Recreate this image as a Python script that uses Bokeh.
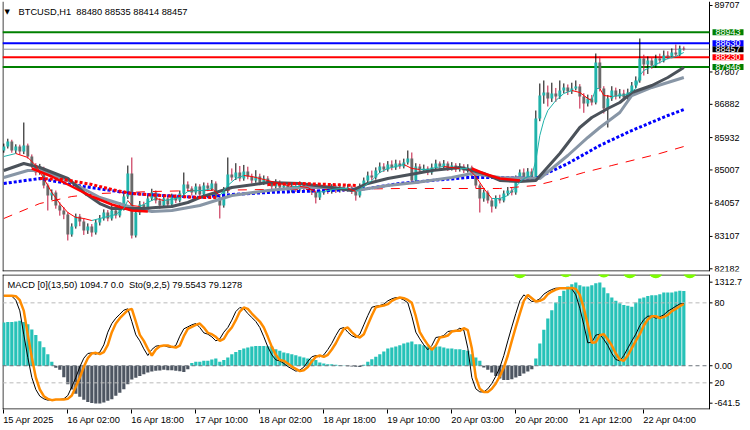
import numpy as np
from bokeh.plotting import figure
from bokeh.models import Range1d, FixedTicker, Label, ColumnDataSource
from bokeh.layouts import column
from bokeh.embed import file_html
from bokeh.resources import INLINE
from bokeh.core.properties import value

FONT = "Liberation Sans"
NAN = float("nan")

# ---------------- data ----------------
symbol = "BTCUSD,H1"
tick_bars = [0, 16, 32, 48, 64, 80, 96, 112, 128, 144, 160]
tick_labels = ["15 Apr 2025", "16 Apr 02:00", "16 Apr 18:00", "17 Apr 10:00", "18 Apr 02:00",
               "18 Apr 18:00", "19 Apr 10:00", "20 Apr 03:00", "20 Apr 20:00", "21 Apr 12:00",
               "22 Apr 04:00"]
price_ticks = [82182, 83107, 84057, 85007, 85932, 86882, 87807, 89707]

opens = [
    85563, 85677, 85820, 85563, 85677, 85534, 85706, 85392, 85134, 84934,
    85049, 84563, 84277, 84363, 83991, 83848, 83734, 83162, 83391, 83677,
    83534, 83277, 83391, 83219, 83505, 83620, 83791, 83620, 83848, 83705,
    83905, 84248, 84906, 83134, 83791, 84020, 83905, 84191, 84363, 84134,
    83991, 84191, 84020, 84248, 84134, 84334, 84591, 84477, 84363, 84534,
    84305, 84563, 84477, 84620, 84220, 83991, 84420, 84877, 84791, 84934,
    84763, 84963, 84820, 84706, 84820, 84648, 84763, 84620, 84534, 84648,
    84506, 84563, 84420, 84534, 84448, 84591, 84477, 84534, 84363, 84220,
    84363, 84477, 84391, 84506, 84420, 84534, 84448, 84506, 84391, 84277,
    84534, 84706, 84848, 84791, 84991, 85106, 85020, 85163, 85077, 85191,
    85106, 85220, 85334, 84706, 85106, 84991, 85049, 84934, 85077, 85191,
    85106, 85191, 85049, 85134, 85020, 85106, 84991, 85077, 84848, 84563,
    84191, 84363, 84134, 83963, 84191, 84134, 84334, 84420, 84363, 84763,
    84934, 84763, 84963, 84791, 86478, 87135, 87221, 87049, 87192, 87106,
    87278, 87364, 87249, 87335, 87392, 87106, 86906, 87049, 86935, 88078,
    87335, 86763, 87049, 87278, 87106, 87192, 87078, 87221, 87421, 87564,
    88192, 88021, 88135, 87992, 88192, 88135, 88278, 88250, 88364, 88307,
    88480]
highs = [
    85760, 85900, 85870, 85740, 85730, 86363, 85760, 85450, 85200, 85180,
    85100, 84620, 84450, 84420, 84080, 83950, 83800, 83480, 83760, 83750,
    83620, 83480, 83460, 83590, 83720, 83880, 83860, 84000, 83930, 84080,
    84330, 85134, 85363, 83880, 84120, 84100, 84280, 84470, 84420, 84200,
    84290, 84260, 84330, 84310, 84420, 84934, 84680, 84540, 84620, 84600,
    84650, 84640, 84720, 84680, 84300, 84520, 85363, 85050, 85200, 85120,
    85150, 85100, 84900, 85000, 84900, 84850, 84830, 84690, 84740, 84710,
    84650, 84630, 84620, 84600, 84680, 84650, 84620, 84600, 84420, 84440,
    84560, 84550, 84600, 84580, 84620, 84600, 84600, 84560, 84440, 84620,
    84790, 84960, 84990, 85080, 85220, 85200, 85260, 85280, 85300, 85280,
    85330, 85563, 85506, 85200, 85180, 85160, 85110, 85190, 85300, 85250,
    85290, 85250, 85230, 85200, 85200, 85170, 85170, 85130, 84900, 84620,
    84450, 84420, 84200, 84280, 84300, 84420, 84520, 84500, 84850, 85020,
    85050, 85060, 85050, 86706, 87478, 87564, 87420, 87500, 87350, 87564,
    87480, 87450, 87500, 87564, 87460, 87200, 87160, 87150, 88335, 88250,
    87400, 87150, 87400, 87360, 87320, 87300, 87330, 87520, 87680, 88764,
    88300, 88250, 88220, 88300, 88330, 88420, 88400, 88480, 88592, 88560,
    88535]
lows = [
    85500, 85620, 85500, 85480, 85450, 85460, 85330, 85060, 84850, 84870,
    84480, 83848, 84150, 83900, 83700, 83600, 82991, 83100, 83330, 83400,
    83150, 83180, 83100, 83160, 83420, 83560, 83540, 83560, 83620, 83650,
    83850, 84180, 83048, 83077, 83720, 83830, 83850, 84120, 84050, 83900,
    83930, 83950, 83960, 84060, 84080, 84280, 84400, 84280, 84300, 84230,
    84250, 84400, 84420, 84140, 83620, 83930, 84350, 84700, 84720, 84680,
    84700, 84740, 84620, 84640, 84570, 84580, 84540, 84450, 84470, 84430,
    84440, 84340, 84360, 84380, 84390, 84400, 84410, 84290, 84050, 84150,
    84300, 84320, 84330, 84350, 84360, 84380, 84390, 84320, 84130, 84220,
    84480, 84650, 84720, 84730, 84920, 84950, 84960, 85000, 85010, 85040,
    85050, 85160, 84640, 84640, 84920, 84920, 84860, 84870, 85010, 85040,
    85040, 84980, 84990, 84950, 84960, 84920, 84930, 84780, 84480, 83791,
    84100, 84050, 83791, 83900, 84050, 84080, 84270, 84280, 84300, 84690,
    84680, 84700, 84720, 84763, 86400, 86900, 86820, 86950, 86950, 87040,
    87200, 87150, 87180, 87280, 86760, 86640, 86820, 86850, 86880, 87250,
    86620, 86220, 86980, 87020, 87050, 86990, 87000, 87150, 87350, 87500,
    87706, 87750, 87900, 87930, 88050, 88080, 88170, 88200, 88250, 88260,
    88414]
closes = [
    85677, 85820, 85563, 85677, 85534, 85706, 85392, 85134, 84934, 85049,
    84563, 84277, 84363, 83991, 83848, 83734, 83162, 83391, 83677, 83534,
    83277, 83391, 83219, 83505, 83620, 83791, 83620, 83848, 83705, 83905,
    84248, 84906, 83134, 83791, 84020, 83905, 84191, 84363, 84134, 83991,
    84191, 84020, 84248, 84134, 84334, 84591, 84477, 84363, 84534, 84305,
    84563, 84477, 84620, 84220, 83991, 84420, 84877, 84791, 84934, 84763,
    84963, 84820, 84706, 84820, 84648, 84763, 84620, 84534, 84648, 84506,
    84563, 84420, 84534, 84448, 84591, 84477, 84534, 84363, 84220, 84363,
    84477, 84391, 84506, 84420, 84534, 84448, 84506, 84391, 84277, 84534,
    84706, 84848, 84791, 84991, 85106, 85020, 85163, 85077, 85191, 85106,
    85220, 85334, 84706, 85106, 84991, 85049, 84934, 85077, 85191, 85106,
    85191, 85049, 85134, 85020, 85106, 84991, 85077, 84848, 84563, 84191,
    84363, 84134, 83963, 84191, 84134, 84334, 84420, 84363, 84763, 84934,
    84763, 84963, 84791, 86478, 87135, 87221, 87049, 87192, 87106, 87278,
    87364, 87249, 87335, 87392, 87106, 86906, 87049, 86935, 88078, 87335,
    86763, 87049, 87278, 87106, 87192, 87078, 87221, 87421, 87564, 88192,
    88021, 88135, 87992, 88192, 88135, 88278, 88250, 88364, 88307, 88480,
    88457]

# moving averages (bar index, price)
fast_bar = [0, 3, 6, 8, 10, 12, 14, 16, 18, 20, 22, 24, 26, 28, 30, 31, 32, 34, 36, 38,
            40, 42, 44, 46, 48, 50, 52, 54, 56, 58, 60, 62, 64, 66, 68, 70, 72, 74, 76, 78,
            80, 82, 84, 86, 88, 90, 92, 94, 96, 98, 100, 102, 104, 106, 108, 110, 112, 114, 116, 118,
            120, 122, 124, 126, 128, 130, 132, 133, 134, 135, 136, 138, 140, 142, 144, 146, 147, 148, 149, 150,
            152, 154, 156, 158, 159, 160, 162, 164, 166, 168, 170]
fast_val = [85392, 85477, 85363, 85134, 84763, 84363, 84048, 83791, 83648, 83620,
            83562, 83620, 83677, 83734, 83905, 84134, 83991, 83963, 84077, 84191,
            84134, 84163, 84220, 84391, 84420, 84420, 84477, 84277, 84563, 84763,
            84848, 84820, 84763, 84706, 84648, 84591, 84534, 84534, 84506, 84363,
            84391, 84448, 84477, 84477, 84391, 84534, 84706, 84934, 85049, 85106,
            85163, 85049, 85020, 85020, 85077, 85106, 85077, 85049, 85049, 84820,
            84477, 84191, 84191, 84277, 84534, 84763, 84848, 85277, 85991, 86420,
            86706, 86992, 87192, 87278, 87221, 87049, 86992, 87335, 87335, 87135,
            87106, 87135, 87163, 87335, 87706, 87849, 87964, 88078, 88192, 88250,
            88364]
dark_bar = [0, 5, 9, 16, 20, 24, 27, 31, 35, 38, 42, 46, 49, 57, 66, 74, 82, 87, 91, 96,
            103, 107, 114, 117, 120, 124, 129, 133, 139, 144, 147, 151, 154, 157, 162, 166, 170]
dark_val = [84991, 85191, 85077, 84763, 84363, 84048, 83905, 83905, 83905, 83934,
            83963, 84077, 84220, 84506, 84648, 84620, 84506, 84420, 84620, 84763,
            84906, 84991, 85077, 84991, 84906, 84706, 84677, 84706, 85477, 86220,
            86506, 86763, 86935, 87221, 87421, 87650, 87935]
light_bar = [0, 6, 9, 16, 24, 32, 37, 42, 49, 57, 66, 74, 82, 88, 96, 103, 112, 117, 124, 134,
             141, 146, 149, 154, 157, 162, 166, 170]
light_val = [84791, 84991, 84991, 84706, 84220, 83934, 83820, 83848, 83991, 84277,
             84420, 84506, 84506, 84420, 84563, 84648, 84791, 84906, 84791, 84763,
             85420, 85935, 86220, 86649, 87135, 87364, 87506, 87650]
blue_bar = [0, 9, 20, 32, 40, 49, 57, 66, 74, 82, 91, 99, 107, 116, 124, 133, 141, 149, 157, 166, 170]
blue_val = [84620, 84763, 84534, 84334, 84277, 84220, 84305, 84363, 84391, 84420,
            84477, 84620, 84706, 84791, 84791, 84763, 85191, 85706, 86134, 86563, 86735]
red_dash_bar = [0, 9, 17, 24, 37, 49, 66, 82, 99, 112, 124, 133, 139, 145, 152, 159, 164, 170]
red_dash_val = [83620, 84048, 84248, 84334, 84391, 84420, 84448, 84448, 84477, 84477,
                84477, 84563, 84734, 84934, 85134, 85334, 85477, 85677]
red_thick_bar = [7, 12, 17, 22, 27, 32, 36, 37, 117, 120, 124, 129]
red_thick_val = [85049, 84820, 84534, 84248, 84020, 83848, 83820, NAN, 85049, 84906, 84763, 84706]
red_dot_bar = [9, 15, 22, 27, 32, 39, 49, 53, 54, 66, 74, 82, 88]
red_dot_val = [84763, 84734, 84591, 84448, 84334, 84277, 84220, 84220, NAN, 84591, 84620, 84591, 84563]

level_values = [88457, 88943, 88630, 88230, 87946]
level_line_colors = ["#8c9096", "#008000", "#0000ff", "#ff0000", "#008000"]
level_line_widths = [1, 2, 2, 2, 2]
level_label_bg = ["#000000", "#008000", "#0000ff", "#ff0000", "#008000"]

macd_hist = [
    633, 640, 640, 650, 660, 640, 608, 530, 450, 360,
    270, 170, 57, -30, -60, -170, -270, -350, -410, -455,
    -500, -530, -545, -552, -552, -540, -515, -490, -440, -395,
    -345, -270, -200, -175, -150, -125, -100, -85, -75, -70,
    -60, -65, -65, -73, -80, -90, -51, 40, 57, 57,
    72, 72, 90, 105, 57, 86, 120, 169, 203, 232,
    252, 267, 281, 291, 291, 291, 285, 281, 242, 218,
    193, 184, 169, 154, 135, 120, 105, 96, 86, 47,
    32, 22, 22, 13, 8, 5, -8, -12, -16, -20,
    15, 57, 96, 130, 169, 208, 252, 267, 281, 301,
    325, 340, 355, 315, 315, 301, 281, 267, 281, 281,
    267, 252, 252, 242, 242, 232, 218, 169, 120, 72,
    -26, -60, -100, -149, -188, -208, -208, -198, -173, -149,
    -115, -85, -51, 105, 325, 526, 692, 814, 926, 1024,
    1098, 1161, 1195, 1220, 1180, 1161, 1161, 1180, 1210, 1220,
    1146, 1063, 1000, 951, 916, 892, 878, 863, 926, 985,
    1000, 1024, 1034, 1034, 1048, 1073, 1073, 1073, 1088, 1098,
    1094.7]
sto_main = [
    85.3, 85.3, 85.0, 82, 74, 56, 39, 24, 15, 10,
    8, 7, 7.5, 7.5, 7.5, 8, 10.5, 17, 24, 32,
    38.5, 42, 42.5, 41.5, 43, 48.5, 58, 64.5, 68.5, 71.5,
    74.5, 75.5, 66, 56, 51.5, 45.5, 40.5, 45, 47.5, 48,
    48, 47, 46.5, 48, 55, 60.5, 62, 63.5, 64.5, 61.5,
    57.5, 56.5, 54.5, 51.5, 53, 58, 61.5, 67, 73.5, 76.5,
    75.5, 72, 69, 66, 61.5, 54.5, 47, 41, 37.2, 36.5,
    34.5, 32.2, 30.5, 28.8, 29.5, 31.8, 36, 39.5, 40.5, 39.5,
    41, 45, 49.7, 55.5, 60.5, 61.5, 58, 55.3, 54, 56.5,
    63.5, 70.5, 76.7, 77.5, 78, 79, 81.5, 83, 84, 83.5,
    82.2, 80, 70, 58, 53, 48.5, 44.8, 48, 54, 54.5,
    55.5, 58.5, 59, 59, 61, 59.5, 46, 24, 15.5, 13.2,
    13.2, 15.5, 19.5, 25, 31.5, 40.5, 51.5, 62, 72, 81.5,
    86, 83.5, 81, 81.5, 83, 86.5, 88.5, 90, 91, 91,
    91, 91.2, 90.5, 86, 76, 63.5, 50, 50.5, 55.8, 56.5,
    52.5, 48, 42, 37.5, 36.5, 40.5, 46, 51.5, 56.5, 63,
    67.5, 70, 70, 68.5, 69.5, 71, 73.8, 75.5, 77.5, 79.13,
    79.55]
sto_signal = [
    85.3, 85.3, 85.3, 85.0, 82, 74, 56, 39, 24, 15,
    10, 8, 7, 7.5, 7.5, 7.5, 8, 10.5, 17, 24,
    32, 38.5, 42, 42.5, 41.5, 43, 48.5, 58, 64.5, 68.5,
    71.5, 74.5, 75.5, 66, 56, 51.5, 45.5, 40.5, 45, 47.5,
    48, 48, 47, 46.5, 48, 55, 60.5, 62, 63.5, 64.5,
    61.5, 57.5, 56.5, 54.5, 51.5, 53, 58, 61.5, 67, 73.5,
    76.5, 75.5, 72, 69, 66, 61.5, 54.5, 47, 41, 37.2,
    36.5, 34.5, 32.2, 30.5, 28.8, 29.5, 31.8, 36, 39.5, 40.5,
    39.5, 41, 45, 49.7, 55.5, 60.5, 61.5, 58, 55.3, 54,
    56.5, 63.5, 70.5, 76.7, 77.5, 78, 79, 81.5, 83, 84,
    83.5, 82.2, 80, 70, 58, 53, 48.5, 44.8, 48, 54,
    54.5, 55.5, 58.5, 59, 59, 61, 59.5, 46, 24, 15.5,
    13.2, 13.2, 15.5, 19.5, 25, 31.5, 40.5, 51.5, 62, 72,
    81.5, 86, 83.5, 81, 81.5, 83, 86.5, 88.5, 90, 91,
    91, 91, 91.2, 90.5, 86, 76, 63.5, 50, 50.5, 55.8,
    56.5, 52.5, 48, 42, 37.5, 36.5, 40.5, 46, 51.5, 56.5,
    63, 67.5, 70, 70, 68.5, 69.5, 71, 73.8, 75.5, 77.5,
    79.13]
marker_bar = [129, 140.5, 150, 156.5, 163, 171.5]
marker_val = [1385, 1400, 1395, 1385, 1385, 1385]
sub_scale_ticks = [1225, 922, 0, -251, -549]
sub_scale_labels = ["1312.7", "80", "0.00", "20", "-641.5"]
sto_levels = [80, 20]

# ---------------- styles ----------------
TEAL = "#20b2aa"
HIST_TEAL = "#26c2b8"
BEAR = "#696969"
BEAR_WICK = "#c0143c"
PX_PER_BAR = 4.0
X0 = -0.33
X1 = X0 + 707 / PX_PER_BAR          # chart area right edge (price-scale line)
XMAIN = X0 + 748 / PX_PER_BAR       # canvas right edge (price-scale column included)
Y0, Y1 = 82105, 89821
M0, M1 = -641.5, 1337.6
S0, S1 = 0, 101.27
n = len(closes)
xs = list(range(n))
LABEL_PX = 9.3
ADV = {" ": 0.278, ":": 0.278, "A": 0.667, "p": 0.556, "r": 0.333}


def text_w(s):
    return sum(ADV.get(ch, 0.556) for ch in s) * LABEL_PX


def price_scale(fig, ticks, labels):
    k = len(ticks)
    fig.segment(x0=[X1] * k, y0=ticks, x1=[X1 + 0.75] * k, y1=ticks, line_color="black", line_width=1)
    fig.text(x=[X1] * k, y=ticks, text=labels, x_offset=5, text_font=value(FONT),
             text_font_size=value("9px"), text_color="black", text_baseline="middle", text_align="left")


# ---------------- main panel ----------------
xr = Range1d(X0, XMAIN)
p = figure(width=750, height=273, x_range=xr, y_range=Range1d(Y0, Y1),
           output_backend="svg", toolbar_location=None, x_axis_location=None,
           y_axis_location=None, min_border_left=2, min_border_right=0,
           min_border_top=1, min_border_bottom=2, background_fill_color="white",
           border_fill_color="white", outline_line_color=None)
p.grid.visible = False

# chart frame (left, bottom) and price-scale line
p.segment(x0=[X0 + 0.12, X0, X1], y0=[Y0, Y0 + 14, Y0], x1=[X0 + 0.12, X1, X1], y1=[Y1, Y0 + 14, Y1],
          line_color="black", line_width=1)

# horizontal levels
p.segment(x0=[X0] * len(level_values), y0=level_values, x1=[X1] * len(level_values), y1=level_values,
          line_color=level_line_colors, line_width=level_line_widths)

up = [c >= o for o, c in zip(opens, closes)]
src = ColumnDataSource(dict(
    x=xs, hi=highs, lo=lows,
    top=[max(o, c) for o, c in zip(opens, closes)],
    bot=[min(o, c) for o, c in zip(opens, closes)],
    body=[TEAL if u else BEAR for u in up],
    wick=["#000000" if u else BEAR_WICK for u in up]))
p.segment(x0="x", y0="hi", x1="x", y1="lo", line_color="wick", line_width=1, source=src)
p.vbar(x="x", top="top", bottom="bot", width=0.72, fill_color="body", line_color=None, source=src)

p.line(red_dash_bar, red_dash_val, line_color="#ff0000", line_width=1, line_dash="9 8")
p.line(blue_bar, blue_val, line_color="#0000ff", line_width=3, line_dash="3 2")
p.line(light_bar, light_val, line_color="#8896a6", line_width=3)
p.line(dark_bar, dark_val, line_color="#4b525a", line_width=3)
p.line(np.array(red_thick_bar, dtype=float), np.array(red_thick_val, dtype=float),
       line_color="#ff0000", line_width=2.5)
p.line(np.array(red_dot_bar, dtype=float), np.array(red_dot_val, dtype=float),
       line_color="#ff0000", line_width=3, line_dash="3 2")
seg_c = [TEAL if fast_val[k + 1] >= fast_val[k] else "#ff0000" for k in range(len(fast_val) - 1)]
p.segment(x0=fast_bar[:-1], y0=fast_val[:-1], x1=fast_bar[1:], y1=fast_val[1:],
          line_color=seg_c, line_width=1)

price_scale(p, price_ticks, [str(t) for t in price_ticks])

for lv, bg in zip(level_values, level_label_bg):
    p.add_layout(Label(x=X1, y=lv, x_offset=3, text=str(lv), text_font=FONT,
                       text_font_size="9px", text_color="white", text_baseline="middle",
                       text_align="left", background_fill_color=bg, padding=(3, 0)))

p.add_layout(Label(x=X0, y=Y1, x_offset=2, y_offset=-10, text="\u25bc", text_font="DejaVu Sans",
                   text_font_size="7px", text_color="black", text_baseline="middle", text_align="left"))
p.add_layout(Label(x=X0, y=Y1, x_offset=16, y_offset=-10,
                   text=f"{symbol}\u00a0\u00a0{opens[-1]} {highs[-1]} {lows[-1]} {closes[-1]}",
                   text_font=FONT, text_font_size="9.3px", text_color="black",
                   text_baseline="middle", text_align="left"))

# ---------------- indicator panel ----------------
ps = figure(width=750, height=157, x_range=xr, y_range=Range1d(M0, M1),
            output_backend="svg", toolbar_location=None, x_axis_location="below",
            y_axis_location=None, min_border_left=2, min_border_right=0,
            min_border_top=1, min_border_bottom=21, background_fill_color="white",
            border_fill_color="white", outline_line_color=None)
ps.grid.visible = False
ps.extra_y_ranges = {"sto": Range1d(S0, S1)}

# frame lines: top, bottom, left, scale line
ps.segment(x0=[X0, X0, X0 + 0.12, X1], y0=[M1 - 7, M0 + 7, M0, M0],
           x1=[X1, X1, X0 + 0.12, X1], y1=[M1 - 7, M0 + 7, M1, M1],
           line_color="black", line_width=1)

label_centres = [round(t + (text_w(s) / 2 - 0.6) / PX_PER_BAR, 2) for t, s in zip(tick_bars, tick_labels)]
xa = ps.xaxis[0]
xa.ticker = FixedTicker(ticks=label_centres, minor_ticks=tick_bars)
xa.major_label_overrides = {c: s for c, s in zip(label_centres, tick_labels)}
xa.axis_line_color = None
xa.major_tick_line_color = None
xa.major_tick_out = 4
xa.major_tick_in = 0
xa.minor_tick_line_color = "black"
xa.minor_tick_out = 4
xa.minor_tick_in = 0
xa.major_label_standoff = 1
xa.major_label_text_font = FONT
xa.major_label_text_font_size = f"{LABEL_PX}px"
xa.major_label_text_color = "black"

hist_col = [HIST_TEAL if v >= 0 else "#4e5662" for v in macd_hist]
ps.vbar(x=xs, top=macd_hist, bottom=0, width=0.8, fill_color=hist_col, line_color=None)
ps.segment(x0=[X0, X0], y0=sto_levels, x1=[X1, X1], y1=sto_levels, y_range_name="sto",
           line_color="#b9b9b9", line_dash="4 3", line_width=1)
ps.segment(x0=[X0], y0=[0], x1=[X1], y1=[0], line_color="#6c737c", line_dash="4 3", line_width=1)
ps.line(xs, sto_main, y_range_name="sto", line_color="black", line_width=1)
ps.line(xs, sto_signal, y_range_name="sto", line_color="#ff8c00", line_width=2.5)
ps.scatter(marker_bar, marker_val, size=14, marker="circle", fill_color="#7cfc00", line_color=None)

price_scale(ps, sub_scale_ticks, sub_scale_labels)

ps.add_layout(Label(x=X0, y=M1, x_offset=5, y_offset=-10,
                    text="MACD [0](13,50) 1094.7 0.0\u00a0\u00a0Sto(9,2,5) 79.5543 79.1278",
                    text_font=FONT, text_font_size="9.3px", text_color="black",
                    text_baseline="middle", text_align="left"))

layout = column(p, ps, spacing=0)
open("out.html", "w").write(file_html(layout, INLINE))
